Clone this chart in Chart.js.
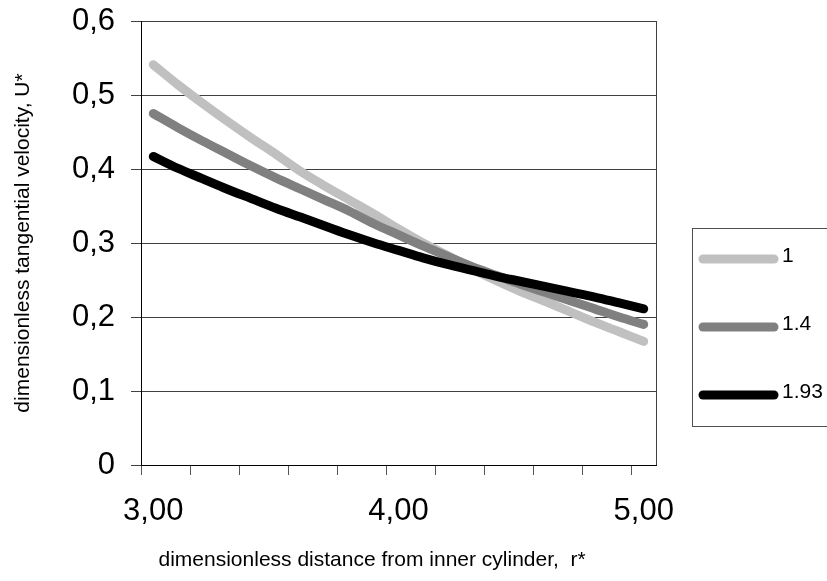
<!DOCTYPE html>
<html>
<head>
<meta charset="utf-8">
<script src="https://cdn.jsdelivr.net/npm/chart.js@4/dist/chart.umd.min.js"></script>
<style>
  html, body { margin: 0; padding: 0; background: #fff; }
  #wrap { width: 827px; height: 581px; position: relative; }
</style>
</head>
<body>
<div id="wrap"><canvas id="velChart"></canvas></div>
<script>
// categorias del eje x (r*) y etiquetas
const rValues = ['3,00','3,10','3,20','3,30','3,40','3,50','3,60','3,70','3,80','3,90','4,00',
                 '4,10','4,20','4,30','4,40','4,50','4,60','4,70','4,80','4,90','5,00'];
const yTickLabels = ['0', '0,1', '0,2', '0,3', '0,4', '0,5', '0,6'];
const seriesNames = ['1', '1.4', '1.93'];

// valores (U*)
const u1 = [0.541, 0.514, 0.489, 0.465, 0.442, 0.420, 0.397, 0.377, 0.358, 0.339, 0.319,
            0.300, 0.283, 0.265, 0.249, 0.234, 0.221, 0.207, 0.193, 0.180, 0.167];
const u14 = [0.475, 0.456, 0.438, 0.421, 0.404, 0.388, 0.373, 0.358, 0.343, 0.326, 0.311,
             0.296, 0.282, 0.268, 0.256, 0.244, 0.233, 0.222, 0.211, 0.200, 0.190];
const u193 = [0.417, 0.401, 0.387, 0.373, 0.360, 0.347, 0.335, 0.323, 0.311, 0.300, 0.290,
              0.280, 0.271, 0.263, 0.255, 0.248, 0.241, 0.234, 0.227, 0.219, 0.211];

const colors = ['#c0c0c0', '#808080', '#000000'];
const FONT = '"Liberation Sans", Arial, sans-serif';

// borde del area del grafico y leyenda con recuadro
const frameAndLegend = {
    id: 'frameAndLegend',
    beforeDatasetsDraw(chart) {
        const { ctx, chartArea: a } = chart;
        ctx.save();
        ctx.strokeStyle = '#404040';
        ctx.lineWidth = 1;
        ctx.beginPath();
        ctx.moveTo(a.right + 0.5, a.top);
        ctx.lineTo(a.right + 0.5, a.bottom);
        ctx.stroke();
        ctx.restore();
    },
    afterDraw(chart) {
        const ctx = chart.ctx;
        ctx.save();
        ctx.strokeStyle = '#505050';
        ctx.lineWidth = 1;
        ctx.strokeRect(692.5, 228.5, 140, 198);
        const rows = [259, 327, 395];
        chart.data.datasets.forEach((ds, i) => {
            ctx.strokeStyle = ds.borderColor;
            ctx.lineWidth = 9;
            ctx.lineCap = 'round';
            ctx.beginPath();
            ctx.moveTo(703, rows[i]);
            ctx.lineTo(774, rows[i]);
            ctx.stroke();
            ctx.fillStyle = '#000';
            ctx.font = '21px ' + FONT;
            ctx.textBaseline = 'alphabetic';
            ctx.fillText(ds.label, 782, rows[i] + 3);
        });
        ctx.restore();
    }
};

const ctx = document.getElementById('velChart').getContext('2d');
const velChart = new Chart(ctx, {
    type: 'line',
    data: {
        labels: rValues,
        datasets: [
            { label: seriesNames[0], data: u1, borderColor: colors[0], order: 3 },
            { label: seriesNames[1], data: u14, borderColor: colors[1], order: 2 },
            { label: seriesNames[2], data: u193, borderColor: colors[2], order: 1 }
        ].map(d => Object.assign(d, {
            borderWidth: 9,
            borderCapStyle: 'round',
            borderJoinStyle: 'round',
            pointRadius: 0,
            fill: false,
            cubicInterpolationMode: 'monotone'
        }))
    },
    options: {
        responsive: true,
        maintainAspectRatio: false,
        animation: false,
        layout: { padding: { top: 21, right: 171, left: 0, bottom: 0 } },
        plugins: { legend: { display: false }, tooltip: { enabled: false } },
        scales: {
            x: {
                type: 'category',
                offset: true,
                afterFit: s => { s.height = 116; },
                grid: {
                    offset: true,
                    drawOnChartArea: false,
                    tickLength: 10,
                    color: c => (c.index % 2 === 0 && c.index < rValues.length) ? '#555' : 'rgba(0,0,0,0)'
                },
                border: { color: '#000', width: 1 },
                ticks: {
                    autoSkip: false,
                    maxRotation: 0,
                    padding: 18,
                    color: '#000',
                    font: { family: FONT, size: 31 },
                    callback: (v, i) => i % 10 === 0 ? rValues[i] : ''
                },
                title: {
                    display: true,
                    align: 'start',
                    text: '   dimensionless distance from inner cylinder,  r*',
                    color: '#000',
                    font: { family: FONT, size: 21 },
                    padding: { top: 0, bottom: 8 }
                }
            },
            y: {
                min: 0,
                max: 0.6,
                afterFit: s => { s.width = 141; s.paddingTop = 0; s.paddingBottom = 0; },
                grid: { color: '#404040', tickLength: 10 },
                border: { color: '#000', width: 1 },
                ticks: {
                    stepSize: 0.1,
                    padding: 16,
                    color: '#000',
                    font: { family: FONT, size: 31 },
                    callback: (v, i) => yTickLabels[i]
                },
                title: {
                    display: true,
                    text: 'dimensionless tangential velocity, U*',
                    color: '#000',
                    font: { family: FONT, size: 21 },
                    padding: { top: 11, bottom: 0 }
                }
            }
        }
    },
    plugins: [frameAndLegend]
});
</script>
</body>
</html>
